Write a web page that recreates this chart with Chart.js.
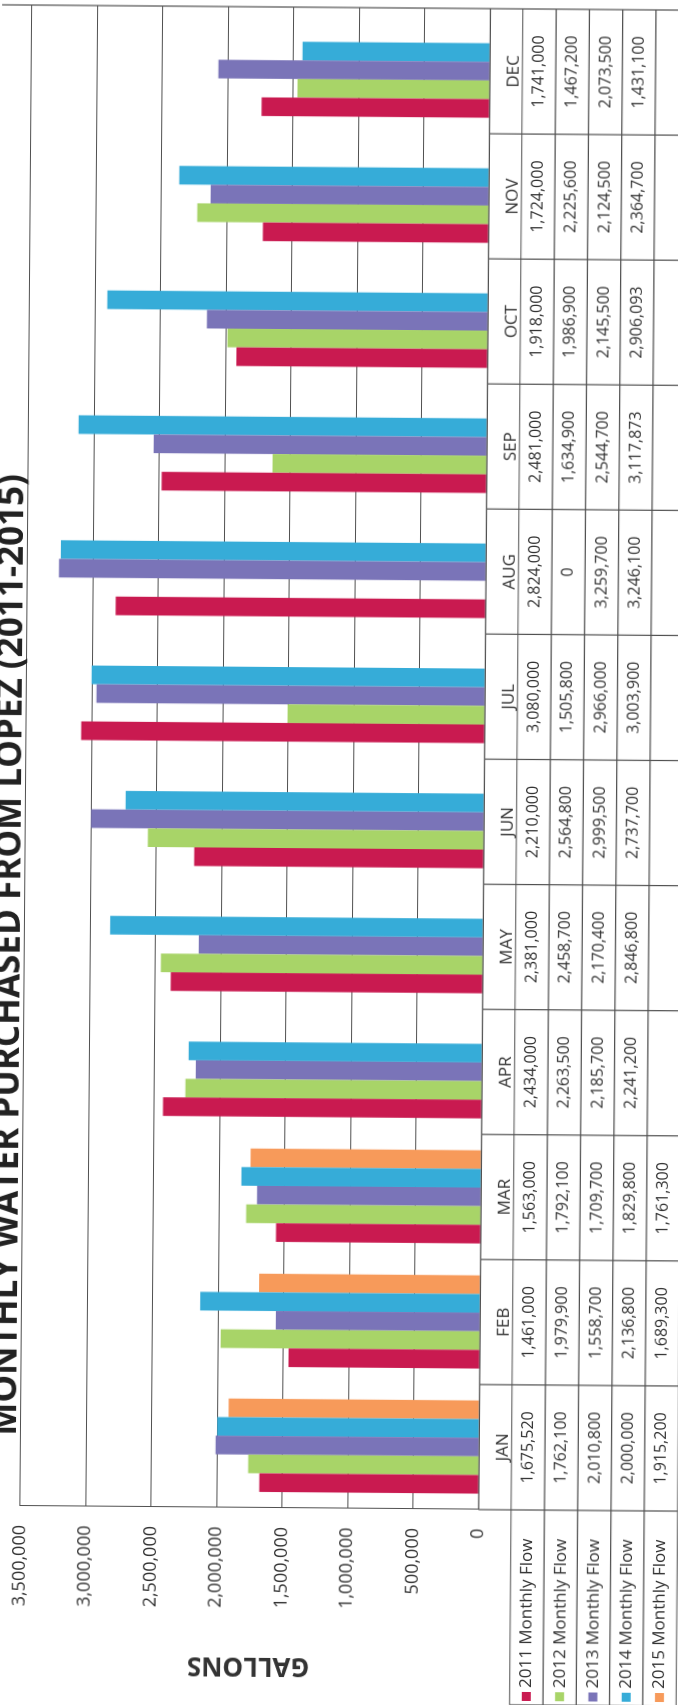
<!DOCTYPE html>
<html>
<head>
<meta charset="utf-8">
<title>Monthly Water Purchased from Lopez</title>
<script src="https://cdn.jsdelivr.net/npm/chart.js@4.4.1/dist/chart.umd.min.js"></script>
<style>
  html, body { margin: 0; padding: 0; width: 678px; height: 1705px; overflow: hidden; background: #fff; }
  /* the chart is laid out landscape and turned onto the portrait page */
  #wrap {
    position: absolute;
    left: -510.75px;
    top: 506.5px;
    width: 1705px;
    height: 692px;
    transform: rotate(-89.55deg);
    transform-origin: 50% 50%;
  }
</style>
</head>
<body>
<div id="wrap"><canvas id="flowChart" width="1705" height="692"></canvas></div>
<script>
const chartTitle = "MONTHLY WATER PURCHASED FROM LOPEZ (2011-2015)";
const months = ["JAN", "FEB", "MAR", "APR", "MAY", "JUN", "JUL", "AUG", "SEP", "OCT", "NOV", "DEC"];

const flow2011 = [1675520, 1461000, 1563000, 2434000, 2381000, 2210000, 3080000, 2824000, 2481000, 1918000, 1724000, 1741000];
const flow2012 = [1762100, 1979900, 1792100, 2263500, 2458700, 2564800, 1505800, 0, 1634900, 1986900, 2225600, 1467200];
const flow2013 = [2010800, 1558700, 1709700, 2185700, 2170400, 2999500, 2966000, 3259700, 2544700, 2145500, 2124500, 2073500];
const flow2014 = [2000000, 2136800, 1829800, 2241200, 2846800, 2737700, 3003900, 3246100, 3117873, 2906093, 2364700, 1431100];
const flow2015 = [1915200, 1689300, 1761300, null, null, null, null, null, null, null, null, null];

const seriesNames = ["2011 Monthly Flow", "2012 Monthly Flow", "2013 Monthly Flow", "2014 Monthly Flow", "2015 Monthly Flow"];
const seriesColors = ["#c91a50", "#a8d468", "#7a74b8", "#36acd8", "#f79a5a"];
const series = [flow2011, flow2012, flow2013, flow2014, flow2015];

const yMax = 3500000;
const yStep = 500000;

const lineColor = "#505050";
const textColor = "#333";

Chart.defaults.font.family = "'Open Sans', sans-serif";
Chart.defaults.color = textColor;

const fmt = (v) => v.toLocaleString("en-US");

// title sits a little left of centre and runs off the top edge
const titleText = {
  id: "titleText",
  afterDraw(chart) {
    const ctx = chart.ctx;
    ctx.save();
    ctx.font = "bold 35px 'Open Sans', sans-serif";
    ctx.fillStyle = "#222";
    ctx.textAlign = "center";
    ctx.textBaseline = "alphabetic";
    ctx.fillText(chartTitle, 748, 25);
    ctx.restore();
  }
};

// data table under the plot: month header, one row per year, legend keys on the left
const dataTable = {
  id: "dataTable",
  afterDraw(chart) {
    const { ctx, chartArea: area, scales: { x } } = chart;
    const top = area.bottom;
    const headH = 32.5;
    const rowH = 33.3;
    const bottom = top + headH + series.length * rowH;
    const catW = (area.right - area.left) / months.length;
    const tableLeft = 2;

    ctx.save();
    ctx.strokeStyle = lineColor;
    ctx.lineWidth = 1.2;
    ctx.beginPath();
    ctx.moveTo(area.left, top);
    ctx.lineTo(area.right, top);
    for (let r = 0; r <= series.length; r++) {
      const y = top + headH + r * rowH;
      ctx.moveTo(tableLeft, y);
      ctx.lineTo(area.right, y);
    }
    for (let c = 0; c <= months.length; c++) {
      const cx = x.getPixelForValue(c) - catW / 2;
      ctx.moveTo(cx, top);
      ctx.lineTo(cx, bottom);
    }
    ctx.moveTo(tableLeft, top + headH);
    ctx.lineTo(tableLeft, bottom);
    // outer edge of the chart
    ctx.moveTo(area.right, 0);
    ctx.lineTo(area.right, chart.height);
    ctx.stroke();

    ctx.font = "16px 'Open Sans', sans-serif";
    ctx.fillStyle = textColor;
    ctx.textBaseline = "middle";
    series.forEach((vals, r) => {
      const cy = top + headH + (r + 0.5) * rowH;
      ctx.textAlign = "center";
      vals.forEach((v, c) => {
        if (v === null) return;
        ctx.fillText(fmt(v), x.getPixelForValue(c), cy);
      });
      // legend key and series name
      ctx.fillStyle = seriesColors[r];
      ctx.fillRect(tableLeft + 4, cy - 4.5, 9, 9);
      ctx.fillStyle = textColor;
      ctx.textAlign = "left";
      ctx.font = "17px 'Open Sans', sans-serif";
      ctx.fillText(seriesNames[r], tableLeft + 17, cy);
      ctx.font = "16px 'Open Sans', sans-serif";
    });
    ctx.restore();
  }
};

const datasets = seriesNames.map((name, i) => ({
  label: name,
  data: series[i],
  backgroundColor: seriesColors[i],
  borderWidth: 0,
  categoryPercentage: 0.745,
  barPercentage: 1
}));

new Chart(document.getElementById("flowChart"), {
  type: "bar",
  data: { labels: months, datasets: datasets },
  options: {
    responsive: false,
    animation: false,
    devicePixelRatio: 1,
    layout: { padding: { left: 0, right: 7, top: 29.75, bottom: 0 } },
    plugins: {
      legend: { display: false },
      tooltip: { enabled: false },
      title: { display: false }
    },
    scales: {
      x: {
        grid: { display: false },
        border: { display: false },
        ticks: { font: { size: 17 }, padding: 6, color: textColor, maxRotation: 0 },
        afterFit: (s) => { s.height = 203.75; }
      },
      y: {
        min: 0,
        max: yMax,
        ticks: { stepSize: yStep, font: { size: 18 }, padding: 19, color: textColor, callback: (v) => fmt(v) },
        grid: { color: lineColor, drawTicks: false },
        border: { color: lineColor },
        title: {
          display: true,
          text: "GALLONS",
          color: textColor,
          font: { size: 26, weight: "bold" },
          padding: { top: 24, bottom: 0 }
        },
        afterFit: (s) => { s.width = 197; }
      }
    }
  },
  plugins: [dataTable, titleText]
});
</script>
</body>
</html>
